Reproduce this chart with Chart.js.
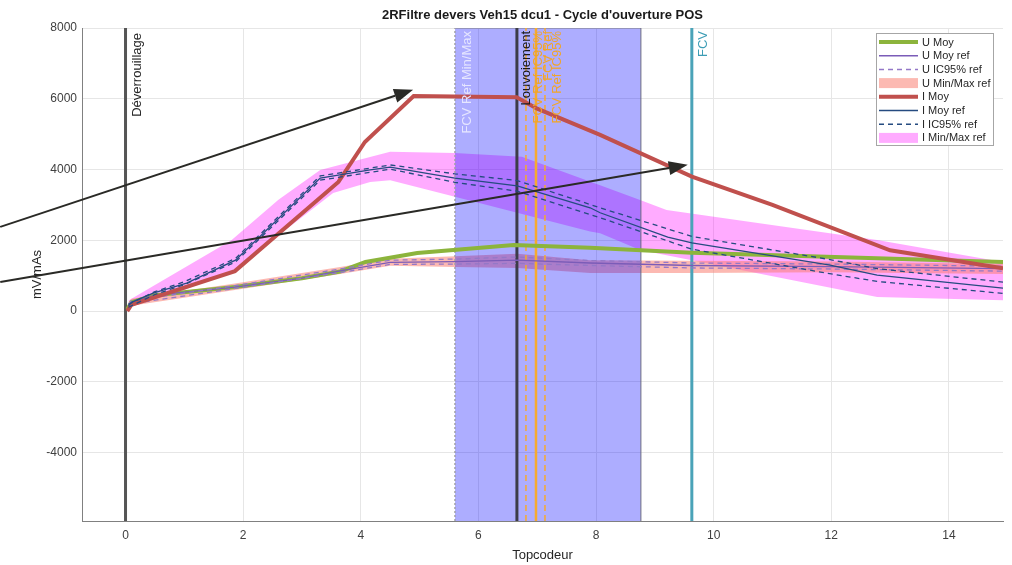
<!DOCTYPE html>
<html>
<head>
<meta charset="utf-8">
<script src="https://cdn.jsdelivr.net/npm/chart.js@4.4.0/dist/chart.umd.min.js"></script>
<style>
  html, body { margin: 0; padding: 0; background: #fff; }
  #wrap { width: 1012px; height: 565px; }
</style>
</head>
<body>
<div id="wrap"><canvas id="chart" width="1012" height="565"></canvas></div>
<script>
// axes
const xMin = -0.74, xMax = 14.92;
const yMin = -5930, yMax = 8000;
const xTicks = [0, 2, 4, 6, 8, 10, 12, 14];
const yTicks = [-4000, -2000, 0, 2000, 4000, 6000, 8000];

// series [topcodeur, mV/mAs]
const uMoy = [[0.03, 50], [0.1, 250], [0.5, 450], [1.86, 680], [3.0, 930], [3.65, 1120], [4.08, 1390], [4.96, 1640], [6.6, 1870], [7.9, 1790], [9.63, 1650], [14.92, 1390]];
const uMoyRef = [[0.05, 150], [0.1, 250], [0.5, 450], [1.86, 680], [3.0, 930], [3.65, 1140], [4.5, 1380], [5.6, 1400], [6.66, 1440], [7.9, 1360], [9.63, 1290], [12, 1260], [14.92, 1200]];
const uIcHigh = [[0.05, 190], [0.1, 290], [1.86, 720], [3.65, 1190], [4.5, 1440], [5.6, 1470], [6.66, 1530], [7.9, 1430], [9.63, 1360], [12, 1330], [14.92, 1270]];
const uIcLow = [[0.05, 110], [0.1, 210], [1.86, 640], [3.65, 1090], [4.5, 1320], [5.6, 1330], [6.66, 1350], [7.9, 1290], [9.63, 1220], [12, 1190], [14.92, 1130]];
const uMaxRef = [[0.05, 250], [0.1, 350], [1.86, 780], [3.65, 1250], [4.5, 1480], [5.6, 1550], [6.66, 1620], [7.9, 1440], [9.63, 1420], [12, 1400], [14.92, 1330]];
const uMinRef = [[0.05, 50], [0.1, 150], [1.86, 600], [3.65, 1050], [4.5, 1280], [5.6, 1250], [6.66, 1220], [7.9, 1080], [9.63, 1080], [12, 1100], [14.92, 1050]];

const iMoy = [[0.03, 0], [0.1, 180], [1.86, 1130], [3.62, 3650], [4.07, 4780], [4.9, 6080], [6.65, 6040], [7.0, 5720], [8.07, 4980], [9.63, 3800], [11.0, 3000], [13.0, 1720], [14.92, 1210]];
const iMoyRef = [[0.05, 150], [0.1, 250], [0.47, 510], [1.04, 790], [1.87, 1440], [3.31, 3760], [4.16, 3990], [4.5, 4070], [5.6, 3760], [6.66, 3540], [7.9, 2920], [8.07, 2780], [9.22, 2090], [9.63, 1930], [11.98, 1300], [12.78, 1020], [14.92, 650]];
const iIcHigh = [[0.05, 190], [0.5, 550], [1.0, 830], [1.87, 1490], [3.31, 3820], [4.5, 4130], [5.6, 3880], [6.66, 3690], [8.07, 2920], [9.63, 2110], [12, 1450], [12.78, 1200], [14.92, 820]];
const iIcLow = [[0.05, 110], [0.5, 470], [1.0, 750], [1.87, 1390], [3.31, 3700], [4.5, 4010], [5.6, 3640], [6.66, 3390], [8.07, 2640], [9.63, 1750], [12, 1050], [12.78, 840], [14.92, 500]];
const iMaxRef = [[0.05, 300], [1.8, 2000], [2.6, 3150], [3.31, 3990], [4.5, 4500], [5.6, 4470], [6.74, 4360], [8.07, 3560], [8.75, 3140], [9.2, 2860], [12.78, 2010], [14.92, 1390]];
const iMinRef = [[0.05, 100], [1.0, 600], [1.87, 1200], [3.53, 3340], [4.16, 3650], [4.5, 3700], [5.6, 3230], [7.9, 2250], [8.07, 2200], [8.75, 1730], [9.2, 1580], [12.78, 400], [14.92, 310]];

// vertical markers
const markerNames = ['Déverrouillage', 'FCV Ref Min/Max', 'Louvoiement', 'FCV Ref IC95%', 'FCV Ref', 'FCV Ref IC95%', 'FCV'];
const markerX = [0, 5.602, 6.655, 6.809, 6.979, 7.132, 9.629];
const markerColors = ['#262626', '#e6e6ff', '#1a1a1a', '#f0a52a', '#f0a52a', '#f0a52a', '#3d9db5'];
const fcvRefBand = [5.602, 8.763];

// arrows [x0, y0, x1, y1]
const arrows = [[-2.13, 2380, 4.89, 6255], [-2.13, 823, 9.56, 4133]];

const legendLabels = ['U Moy', 'U Moy ref', 'U IC95% ref', 'U Min/Max ref', 'I Moy', 'I Moy ref', 'I IC95% ref', 'I Min/Max ref'];

const FONT = '"Liberation Sans", Arial, Helvetica, sans-serif';
const C = {
    uMoy: '#8cb43c', uRef: '#7b5cb8', uBand: 'rgba(250,128,114,0.55)',
    iMoy: '#c0504d', iRef: '#254b80', iBand: 'rgba(255,0,255,0.33)',
    rect: 'rgba(0,0,255,0.32)'
};

const pts = arr => arr.map(p => ({ x: p[0], y: p[1] }));

function line(label, data, color, width, order, extra) {
    return Object.assign({
        label, data: pts(data), borderColor: color, backgroundColor: color,
        borderWidth: width, pointRadius: 0, tension: 0, fill: false, order
    }, extra || {});
}

function vline(x, color, width, order, dash) {
    return {
        label: '', data: [{ x, y: yMin }, { x, y: yMax }], borderColor: color,
        borderWidth: width, borderDash: dash || [], pointRadius: 0, fill: false, order
    };
}

const datasets = [
    // bands
    line('I Min/Max ref', iMaxRef, 'rgba(0,0,0,0)', 0, 20, { fill: '+1', backgroundColor: C.iBand }),
    line('', iMinRef, 'rgba(0,0,0,0)', 0, 20),
    line('U Min/Max ref', uMaxRef, 'rgba(0,0,0,0)', 0, 19, { fill: '+1', backgroundColor: C.uBand }),
    line('', uMinRef, 'rgba(0,0,0,0)', 0, 19),
    // FCV Ref Min/Max rectangle
    { label: '', data: [{ x: fcvRefBand[0], y: yMax }, { x: fcvRefBand[1], y: yMax }], borderColor: '#8a8a8a',
      borderWidth: 1, pointRadius: 0, fill: 'start', backgroundColor: C.rect, order: 15 },
    vline(fcvRefBand[0], '#a0a0a8', 1.5, 14, [2, 2]),
    vline(fcvRefBand[1], '#6c6c80', 1, 14),
    // markers
    vline(markerX[0], '#555555', 3, 12),
    vline(markerX[2], '#3c3c48', 3, 12),
    vline(markerX[3], '#f5aa30', 1.5, 12, [6, 4]),
    vline(markerX[4], '#f5aa30', 2.5, 12),
    vline(markerX[5], '#f5aa30', 1.5, 12, [6, 4]),
    vline(markerX[6], '#4aa3b8', 3, 12),
    // series
    line('U Moy', uMoy, C.uMoy, 4, 8),
    line('U Moy ref', uMoyRef, C.uRef, 1.3, 7),
    line('U IC95% ref', uIcHigh, '#9478c8', 1.3, 6, { borderDash: [5, 4] }),
    line('', uIcLow, '#9478c8', 1.3, 6, { borderDash: [5, 4] }),
    line('I Moy', iMoy, C.iMoy, 4, 5),
    line('I Moy ref', iMoyRef, C.iRef, 1.3, 4),
    line('I IC95% ref', iIcHigh, C.iRef, 1.3, 3, { borderDash: [5, 4] }),
    line('', iIcLow, C.iRef, 1.3, 3, { borderDash: [5, 4] })
];

const decorPlugin = {
    id: 'decor',
    afterDatasetsDraw(chart) {
        const { ctx, scales: { x } } = chart;
        ctx.save();
        ctx.font = '13px ' + FONT;
        ctx.textAlign = 'right';
        ctx.textBaseline = 'middle';
        markerNames.forEach((name, i) => {
            const px = x.getPixelForValue(markerX[i]) + (i === 2 ? 10 : 12);
            ctx.save();
            ctx.translate(px, i === 0 ? 33 : 31);
            ctx.rotate(-Math.PI / 2);
            ctx.fillStyle = markerColors[i];
            ctx.fillText(name, 0, 0);
            ctx.restore();
        });
        ctx.restore();
    },
    afterDraw(chart) {
        const { ctx, chartArea: a, scales: { x, y } } = chart;
        ctx.save();
        // title
        ctx.fillStyle = '#1a1a1a';
        ctx.font = 'bold 13px ' + FONT;
        ctx.textAlign = 'center';
        ctx.textBaseline = 'middle';
        ctx.fillText('2RFiltre devers Veh15 dcu1 - Cycle d\'ouverture POS', (a.left + a.right) / 2, 15);

        // legend
        const lx = 876, ly = 33, lw = 117, lh = 112;
        ctx.fillStyle = '#ffffff';
        ctx.fillRect(lx, ly, lw, lh);
        ctx.strokeStyle = '#a6a6a6';
        ctx.lineWidth = 1;
        ctx.strokeRect(lx + 0.5, ly + 0.5, lw, lh);
        const styles = [
            { c: C.uMoy, w: 4 }, { c: C.uRef, w: 1.5 }, { c: '#9478c8', w: 1.5, d: [5, 4] }, { box: C.uBand },
            { c: C.iMoy, w: 4 }, { c: C.iRef, w: 1.5 }, { c: C.iRef, w: 1.5, d: [5, 4] }, { box: C.iBand }
        ];
        ctx.font = '11px ' + FONT;
        ctx.textAlign = 'left';
        legendLabels.forEach((lab, i) => {
            const yy = 42 + i * 13.7;
            const s = styles[i];
            if (s.box) {
                ctx.fillStyle = s.box;
                ctx.fillRect(879, yy - 5, 39, 10);
            } else {
                ctx.beginPath();
                ctx.setLineDash(s.d || []);
                ctx.strokeStyle = s.c;
                ctx.lineWidth = s.w;
                ctx.moveTo(879, yy);
                ctx.lineTo(918, yy);
                ctx.stroke();
                ctx.setLineDash([]);
            }
            ctx.fillStyle = '#262626';
            ctx.fillText(lab, 922, yy + 0.5);
        });

        // arrows
        ctx.strokeStyle = '#2a2a26';
        ctx.fillStyle = '#2a2a26';
        ctx.lineWidth = 2;
        arrows.forEach(r => {
            const x0 = x.getPixelForValue(r[0]), y0 = y.getPixelForValue(r[1]);
            const x1 = x.getPixelForValue(r[2]), y1 = y.getPixelForValue(r[3]);
            const ang = Math.atan2(y1 - y0, x1 - x0);
            const hl = 19, hw = 7;
            const bx = x1 - hl * Math.cos(ang), by = y1 - hl * Math.sin(ang);
            ctx.beginPath();
            ctx.moveTo(x0, y0);
            ctx.lineTo(bx, by);
            ctx.stroke();
            ctx.beginPath();
            ctx.moveTo(x1, y1);
            ctx.lineTo(bx + hw * Math.sin(ang), by - hw * Math.cos(ang));
            ctx.lineTo(bx - hw * Math.sin(ang), by + hw * Math.cos(ang));
            ctx.closePath();
            ctx.fill();
        });
        ctx.restore();
    }
};

new Chart(document.getElementById('chart'), {
    type: 'line',
    data: { datasets },
    options: {
        responsive: false,
        animation: false,
        layout: { padding: { top: 28, right: 9, left: 0, bottom: 0 } },
        plugins: { legend: { display: false }, tooltip: { enabled: false }, title: { display: false } },
        scales: {
            x: {
                type: 'linear', min: xMin, max: xMax,
                afterBuildTicks: scale => { scale.ticks = xTicks.map(v => ({ value: v })); },
                afterFit: scale => { scale.height = 44; },
                grid: { color: '#e6e6e6', drawTicks: false },
                border: { color: '#808080', width: 1 },
                ticks: { color: '#404040', font: { family: FONT, size: 12 }, padding: 7, maxRotation: 0 },
                title: { display: true, text: 'Topcodeur', color: '#262626', font: { family: FONT, size: 13 }, padding: { top: 0, bottom: 2 } }
            },
            y: {
                type: 'linear', min: yMin, max: yMax,
                afterBuildTicks: scale => { scale.ticks = yTicks.map(v => ({ value: v })); },
                afterFit: scale => { scale.width = 82; },
                grid: { color: '#e6e6e6', drawTicks: false },
                border: { color: '#808080', width: 1 },
                ticks: { color: '#404040', font: { family: FONT, size: 12 }, padding: 5, callback: v => String(v) },
                title: { display: true, text: 'mV/mAs', color: '#262626', font: { family: FONT, size: 13 }, padding: { top: 30, bottom: 0 } }
            }
        }
    },
    plugins: [decorPlugin]
});
</script>
</body>
</html>
